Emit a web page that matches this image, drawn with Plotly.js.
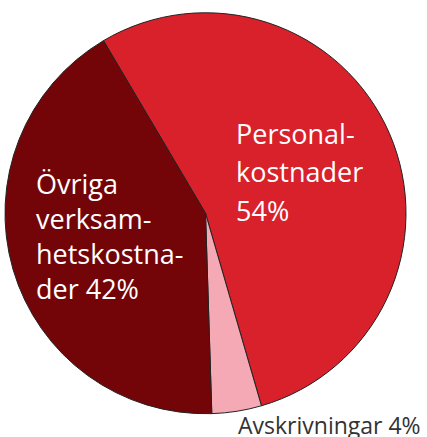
<!DOCTYPE html>
<html>
<head>
<meta charset="utf-8">
<script src="https://cdn.plot.ly/plotly-3.0.1.min.js"></script>
<style>html,body{margin:0;padding:0;background:#fff;}#chart{width:427px;height:437px;}</style>
</head>
<body>
<div id="chart"></div>
<script>
// Data
const categories = ["Personalkostnader", "Avskrivningar", "Övriga verksamhetskostnader"];
const values = [54, 4, 42];
const colors = ["#d9212b", "#f4a9b4", "#730508"];
// Label text lines (as printed in the chart)
const personalLines = ["Personal-", "kostnader", "54%"];
const ovrigaLines = ["Övriga", "verksam-", "hetskostna-", "der 42%"];
const avskrLabel = "Avskrivningar 4%";

const W = 427, H = 437;
const px = x => x / W;
const py = y => 1 - y / H;

const annotations = [];
function addLines(lines, left, firstMid, spacing, size, color) {
  lines.forEach((t, i) => {
    annotations.push({
      text: t, showarrow: false, xref: 'paper', yref: 'paper',
      x: px(left), y: py(firstMid + i * spacing), xanchor: 'left', yanchor: 'middle',
      align: 'left', font: {family: 'Open Sans, sans-serif', size: size, color: color}
    });
  });
}
addLines(personalLines, 234, 133, 38.5, 27, '#ffffff');
addLines(ovrigaLines, 34, 183, 35.3, 27, '#ffffff');
addLines([avskrLabel], 236, 425, 0, 23, '#333333');

const trace = {
  type: 'pie',
  labels: categories,
  values: values,
  sort: false,
  direction: 'clockwise',
  rotation: -30.6,
  marker: {colors: colors, line: {color: '#222222', width: 1}},
  textinfo: 'none',
  hoverinfo: 'label+percent',
  showlegend: false,
  domain: {x: [px(5), px(406)], y: [py(414), py(12.5)]}
};

Plotly.newPlot('chart', [trace], {
  width: W, height: H,
  margin: {l: 0, r: 0, t: 0, b: 0},
  paper_bgcolor: '#ffffff',
  showlegend: false,
  annotations: annotations
}, {displayModeBar: false, staticPlot: true});
</script>
</body>
</html>
